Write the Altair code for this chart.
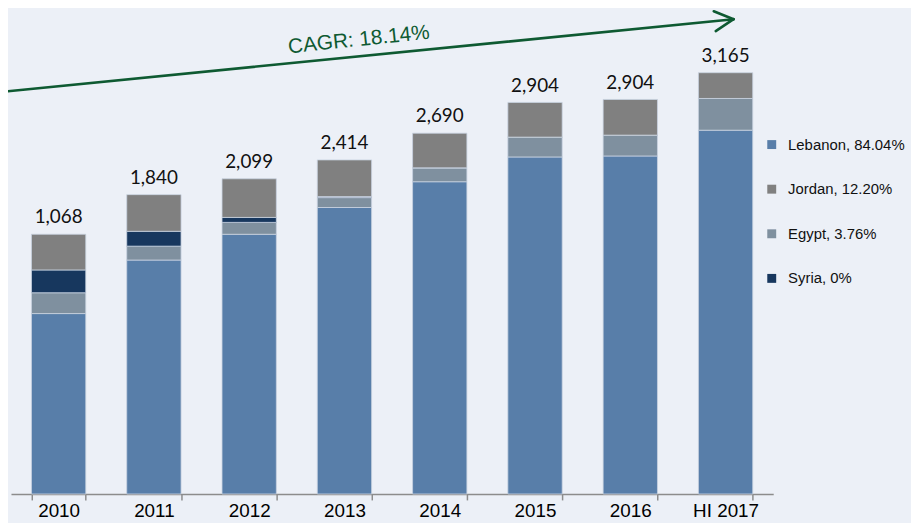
import altair as alt
import pandas as pd

# ---- data (bar segment heights in chart units) ----
years = ["2010", "2011", "2012", "2013", "2014", "2015", "2016", "HI 2017"]
lebanon = [182, 236, 262, 289, 315, 340, 341, 367]
egypt = [21, 14, 12, 10, 14, 20, 21, 32]
syria = [23, 15, 5, 1, 0, 0, 0, 0]
jordan = [36, 37, 39, 37, 35, 35, 36, 26]
total_labels = ["1,068", "1,840", "2,099", "2,414", "2,690", "2,904", "2,904", "3,165"]

series_names = ["Lebanon, 84.04%", "Egypt, 3.76%", "Syria, 0%", "Jordan, 12.20%"]  # stack order bottom->top
legend_order = ["Lebanon, 84.04%", "Jordan, 12.20%", "Egypt, 3.76%", "Syria, 0%"]
series_colors = ["#587EA9", "#808080", "#7F909F", "#17375E"]  # in legend order
cagr_text = "CAGR: 18.14%"

# ---- tables ----
rows = []
for s_i, (name, vals) in enumerate(zip(series_names, [lebanon, egypt, syria, jordan])):
    for y, v in zip(years, vals):
        rows.append({"year": y, "series": name, "value": v, "order": s_i})
df = pd.DataFrame(rows)

tot = pd.DataFrame({
    "year": years,
    "total": [a + b + c + d for a, b, c, d in zip(lebanon, egypt, syria, jordan)],
    "label": total_labels,
})

x_enc = alt.X("year:N", sort=years, title=None,
              scale=alt.Scale(paddingInner=0.43, paddingOuter=0.215))
y_scale = alt.Scale(domain=[0, 488], nice=False, zero=True)

bars = alt.Chart(df).mark_bar(stroke="#C9D3E1", strokeWidth=0.8).encode(
    x=x_enc,
    y=alt.Y("value:Q", stack="zero", scale=y_scale, axis=None),
    color=alt.Color("series:N",
                    scale=alt.Scale(domain=legend_order, range=series_colors),
                    legend=alt.Legend(title=None)),
    order=alt.Order("order:Q", sort="ascending"),
)

labels = alt.Chart(tot).mark_text(
    font="Lato", fontSize=19, color="#111111", baseline="middle", dy=-17
).encode(
    x=alt.X("year:N", sort=years),
    y=alt.Y("total:Q", scale=y_scale),
    text="label:N",
)

one = alt.Data(values=[{}])
green = "#0E5A32"
arrow_segments = [
    (-6, 82, 729, 9),
    (709, 1, 729, 9),
    (711, 21, 729, 9),
]
rules = [
    alt.Chart(one).mark_rule(color=green, strokeWidth=2.6, strokeCap="round").encode(
        x=alt.value(a), y=alt.value(b), x2=alt.value(c), y2=alt.value(d))
    for a, b, c, d in arrow_segments
]

cagr = alt.Chart(one).mark_text(
    font="Liberation Sans", fontSize=21, color=green, align="center",
    baseline="alphabetic", angle=354, dy=-3
).encode(x=alt.value(352), y=alt.value(39), text=alt.value(cagr_text))

chart = alt.layer(bars, labels, *rules, cagr).properties(
    width=769, height=488,
    autosize=alt.AutoSizeParams(type="none"),
    padding={"left": 3, "top": 0, "right": 139, "bottom": 27},
    background="#ECF0F7",
).configure_view(stroke=None).configure_axisX(
    labelAngle=0, labelFont="Liberation Sans", labelFontSize=19, labelColor="#000000",
    domainColor="#8C8C8C", domainWidth=1.5, tickColor="#8C8C8C", tickWidth=1.5,
    tickSize=6, tickBand="extent", labelPadding=2, grid=False,
).configure_legend(
    orient="none", legendX=760, legendY=128, direction="vertical",
    symbolType="square", symbolSize=81, symbolStrokeWidth=0,
    labelFont="Liberation Sans", labelFontSize=15, labelColor="#111111",
    rowPadding=29, labelOffset=9, padding=0, labelLimit=300,
)

chart.save("out.html", embed_options={"renderer": "svg", "actions": False})
